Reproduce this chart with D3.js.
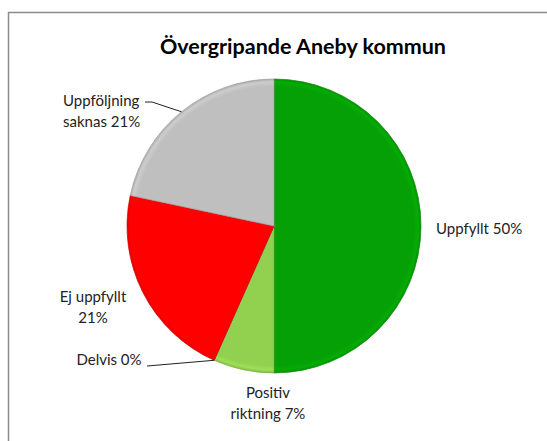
<!DOCTYPE html>
<html><head><meta charset="utf-8">
<script src="https://cdn.jsdelivr.net/npm/d3@7"></script>
<style>body{margin:0;background:#fff}svg{display:block}</style>
</head><body>
<svg id="c" width="547" height="441"></svg>
<script>
const categories = ["Uppfyllt", "Positiv riktning", "Delvis", "Ej uppfyllt", "Uppföljning saknas"];
const values = [30, 4, 0, 13, 13];
const percentLabels = ["50%", "7%", "0%", "21%", "21%"];
const colors = ["#05A005", "#92D050", "#A6A6A6", "#FF0000", "#BFBFBF"];
const title = "Övergripande Aneby kommun";

const svg = d3.select("#c");
const W = 547, H = 441;
svg.append("rect").attr("width", W).attr("height", H).attr("fill", "#fff");
// frame
svg.append("path").attr("d", "M8.5,441 L8.5,12.5 L547,12.5").attr("fill", "none").attr("stroke", "#8a8a8a").attr("stroke-width", 1.5);

svg.append("text").attr("x", 303).attr("y", 54).attr("text-anchor", "middle")
  .attr("font-family", "Lato, 'Open Sans', sans-serif").attr("font-weight", "bold").attr("font-size", 21.5)
  .attr("fill", "#000").text(title);

const cx = 274, cy = 226, R = 147;
const defs = svg.append("defs");
colors.forEach((c, i) => {
  const g = defs.append("radialGradient").attr("id", "g" + i).attr("gradientUnits", "userSpaceOnUse")
    .attr("cx", 0).attr("cy", 0).attr("r", R);
  const base = d3.color(c);
  g.append("stop").attr("offset", "0%").attr("stop-color", base.formatHex());
  g.append("stop").attr("offset", "95%").attr("stop-color", base.formatHex());
  g.append("stop").attr("offset", "98%").attr("stop-color", base.brighter(0.2).formatHex());
  g.append("stop").attr("offset", "100%").attr("stop-color", base.darker(0.3).formatHex());
});

const pie = d3.pie().sort(null).value(d => d)(values);
const arc = d3.arc().innerRadius(0).outerRadius(R);
const gp = svg.append("g").attr("transform", `translate(${cx},${cy})`);
gp.selectAll("path").data(pie).join("path")
  .attr("d", arc)
  .attr("fill", (d, i) => `url(#g${i})`)
  .attr("stroke", (d, i) => d3.color(colors[i]).darker(0.5))
  .attr("stroke-width", 0.7);

const font = "Lato, 'Open Sans', sans-serif";
const fs = 15;
function label(lines, x, y, anchor) {
  const t = svg.append("text").attr("font-family", font).attr("font-size", fs).attr("fill", "#222")
    .attr("text-anchor", anchor);
  lines.forEach((l, k) => t.append("tspan").attr("x", x).attr("y", y + k * 21).text(l));
}
// Uppfyllt
label([categories[0] + " " + percentLabels[0]], 436, 234, "start");
// Positiv riktning
label(["Positiv", "riktning " + percentLabels[1]], 268, 398, "middle");
// Delvis
label([categories[2] + " " + percentLabels[2]], 109, 365, "middle");
// Ej uppfyllt
label(["Ej uppfyllt", percentLabels[3]], 93, 302, "middle");
// Uppföljning saknas
label(["Uppföljning", "saknas " + percentLabels[4]], 63, 106, "start");

// leader lines
const aDelvis = pie[2].startAngle;
const pD = [cx + R * Math.sin(aDelvis), cy - R * Math.cos(aDelvis)];
svg.append("path").attr("d", `M147,366 L${pD[0]},${pD[1]}`).attr("fill", "none").attr("stroke", "#222").attr("stroke-width", 1);
const aU = (pie[4].startAngle + pie[4].endAngle) / 2;
const pU = [cx + R * Math.sin(aU), cy - R * Math.cos(aU)];
svg.append("path").attr("d", `M145,102 L152,102 L${pU[0]},${pU[1]}`).attr("fill", "none").attr("stroke", "#222").attr("stroke-width", 1);
</script>
</body></html>
